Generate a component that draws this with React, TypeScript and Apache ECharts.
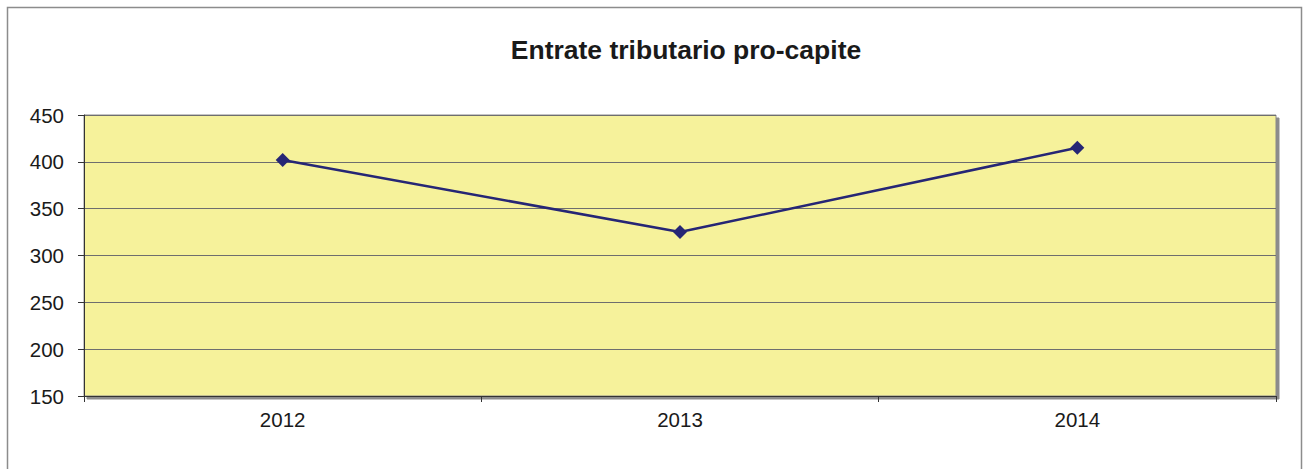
import React, { useEffect, useRef } from "react";
import * as echarts from "echarts";

const categories = ["2012", "2013", "2014"];
const values = [402, 325, 415];
const yTicks = { min: 150, max: 450, interval: 50 };
const title = "Entrate tributario pro-capite";

export default function App() {
  const ref = useRef<HTMLDivElement>(null);
  useEffect(() => {
    document.body.style.margin = "0";
    const chart = echarts.init(ref.current!, null, { renderer: "svg" });
    chart.setOption({
      animation: false,
      backgroundColor: "#ffffff",
      textStyle: { fontFamily: "Liberation Sans, Arial, sans-serif" },
      title: {
        text: title,
        left: 681,
        textAlign: "center",
        top: 31,
        textStyle: { fontSize: 26.5, fontWeight: "bold", color: "#1a1a1a", fontFamily: "Liberation Sans, Arial, sans-serif" },
      },
      graphic: [
        {
          type: "rect",
          shape: { x: 7.5, y: 7.5, width: 1294, height: 480 },
          style: { fill: "none", stroke: "#8c8c8c", lineWidth: 1.5 },
          silent: true,
          z: -10,
        },
      ],
      grid: {
        left: 84,
        top: 115,
        width: 1192,
        height: 281,
        show: true,
        backgroundColor: "#F6F29B",
        borderColor: "#8a8a8a",
        borderWidth: 1,
        shadowColor: "#8c8c8c",
        shadowOffsetX: 3,
        shadowOffsetY: 3,
        shadowBlur: 0,
      },
      xAxis: {
        type: "category",
        data: categories,
        boundaryGap: true,
        axisLine: { lineStyle: { color: "#333333", width: 1 } },
        axisTick: { show: true, length: 6, lineStyle: { color: "#333333" } },
        axisLabel: { fontSize: 20.5, color: "#1a1a1a", margin: 13 },
        splitLine: { show: false },
      },
      yAxis: {
        type: "value",
        min: yTicks.min,
        max: yTicks.max,
        interval: yTicks.interval,
        axisLine: { show: true, lineStyle: { color: "#333333", width: 1 } },
        axisTick: { show: true, length: 6, lineStyle: { color: "#333333" } },
        axisLabel: { fontSize: 20.5, color: "#1a1a1a", margin: 20 },
        splitLine: { show: true, lineStyle: { color: "#6e6e6e", width: 1 } },
      },
      series: [
        {
          type: "line",
          data: values,
          symbol: "diamond",
          symbolSize: 14,
          lineStyle: { color: "#262675", width: 2.5 },
          itemStyle: { color: "#262675" },
        },
      ],
    });
    return () => chart.dispose();
  }, []);
  return <div ref={ref} style={{ width: 1303, height: 469 }} />;
}
